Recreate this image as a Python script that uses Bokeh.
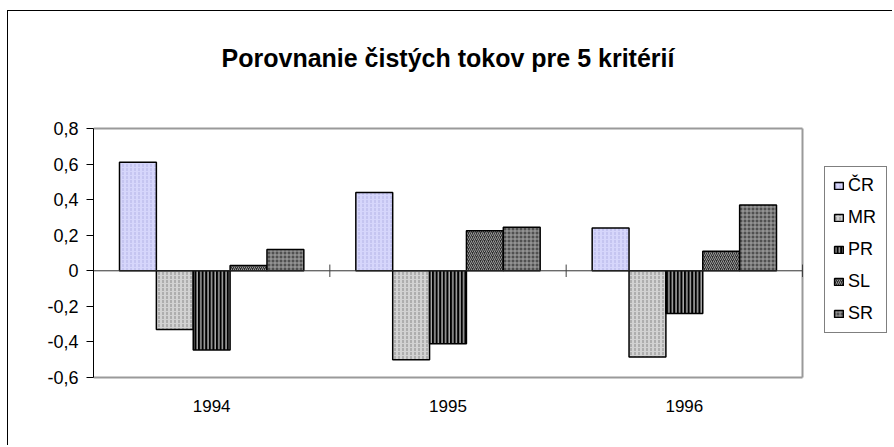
from bokeh.plotting import figure
from bokeh.models import (ColumnDataSource, Range1d, FixedTicker, Legend, LegendItem, Label)
from bokeh.transform import dodge
from bokeh.embed import file_html
from bokeh.resources import INLINE

years = ["1994", "1995", "1996"]
series = ["ČR", "MR", "PR", "SL", "SR"]
CR = [0.61, 0.44, 0.24]
MR = [-0.33, -0.50, -0.485]
PR = [-0.445, -0.41, -0.24]
SL = [0.03, 0.225, 0.11]
SR = [0.12, 0.245, 0.37]
y_ticks = [-0.6, -0.4, -0.2, 0.0, 0.2, 0.4, 0.6, 0.8]
y_tick_labels = ["-0,6", "-0,4", "-0,2", "0", "0,2", "0,4", "0,6", "0,8"]
title_text = "Porovnanie čistých tokov pre 5 kritérií"

values = {"ČR": CR, "MR": MR, "PR": PR, "SL": SL, "SR": SR}
styles = {
    "ČR": dict(fill_color="#d6d6fb", hatch_pattern=":", hatch_color="#b4b4e6", hatch_scale=4, hatch_weight=1),
    "MR": dict(fill_color="#d2d2d2", hatch_pattern=":", hatch_color="#8a8a8a", hatch_scale=4, hatch_weight=1),
    "PR": dict(fill_color="#000000", hatch_pattern="|", hatch_color="#ffffff", hatch_scale=3.6, hatch_weight=1),
    "SL": dict(fill_color="#2e2e2e", hatch_pattern="/", hatch_color="#9a9a9a", hatch_scale=4, hatch_weight=1),
    "SR": dict(fill_color="#505050", hatch_pattern="+", hatch_color="#a8a8a8", hatch_scale=4, hatch_weight=1),
}

# layout geometry (pixels)
W, H = 892, 445
LEFT, RIGHT, TOP, BOTTOM = 93, 4, 20, 66
CAT_W = 709                      # width of the category area inside the frame
AXIS_TOP, AXIS_BOTTOM = 128, 377 # pixel rows of the 0,8 and -0,6 ticks
FRAME_W = W - LEFT - RIGHT
FRAME_H = H - TOP - BOTTOM
n = len(years)
x_end = n * FRAME_W / CAT_W
y_lo, y_hi = -0.6, 0.8
ppu = (AXIS_BOTTOM - AXIS_TOP) / (y_hi - y_lo)
y_start = y_lo - (H - BOTTOM - AXIS_BOTTOM) / ppu
y_end = y_start + FRAME_H / ppu

xs = [i + 0.5 for i in range(n)]
data = {"x": xs}
for s in series:
    data[s] = values[s]
source = ColumnDataSource(data)

p = figure(width=W, height=H, output_backend="svg", toolbar_location=None,
           x_range=Range1d(0, x_end), y_range=Range1d(y_start, y_end),
           min_border_left=LEFT, min_border_right=RIGHT, min_border_top=TOP, min_border_bottom=BOTTOM)
p.styles = {"background": "linear-gradient(#000,#000) 7px 10px / 1px 100% no-repeat, "
                          "linear-gradient(#000,#000) 7px 10px / 100% 1px no-repeat, #ffffff"}
p.grid.visible = False
p.outline_line_color = None
p.background_fill_color = "white"
p.border_fill_alpha = 0

# title (inside the enlarged frame, above the plot area)
p.add_layout(Label(x=CAT_W / 2, y=(H - BOTTOM) - 57, x_units="screen", y_units="screen",
                   text=title_text, text_font="Liberation Sans", text_font_style="bold",
                   text_font_size="25px", text_align="center", text_baseline="middle",
                   text_color="black"))

# plot-area border (gray) and zero axis with category separators
border = ColumnDataSource({"x0": [0, 0, n], "x1": [n, n, n],
                           "y0": [y_hi, y_lo, y_lo], "y1": [y_hi, y_lo, y_hi]})
p.segment(x0="x0", x1="x1", y0="y0", y1="y1", source=border, line_color="#9a9a9a", line_width=2)

bw = 0.156
offsets = [-2 * bw, -bw, 0.0, bw, 2 * bw]
items = []
for s, off in zip(series, offsets):
    r = p.vbar(x=dodge("x", off), top=s, bottom=0, width=bw,
               source=source, line_color="black", line_width=1.5, **styles[s])
    items.append(LegendItem(label=s, renderers=[r]))

zero = ColumnDataSource({"x0": [0], "x1": [n], "y": [0]})
p.segment(x0="x0", x1="x1", y0="y", y1="y", source=zero, line_color="#303030", line_width=1)
ticks_src = ColumnDataSource({"x": xs, "y0": [-0.035] * n, "y1": [0.035] * n})
p.segment(x0=dodge("x", 0.5), x1=dodge("x", 0.5), y0="y0", y1="y1",
          source=ticks_src, line_color="#404040", line_width=1)

# y axis
p.yaxis.ticker = FixedTicker(ticks=y_ticks)
p.yaxis.bounds = (y_lo, y_hi)
p.yaxis.major_label_overrides = {t: l for t, l in zip(y_ticks, y_tick_labels)}
p.yaxis.minor_tick_line_color = None
p.yaxis.major_tick_in = 0
p.yaxis.major_tick_out = 7
p.yaxis.axis_line_color = "black"
p.yaxis.major_tick_line_color = "black"
p.yaxis.major_label_text_font = "Liberation Sans"
p.yaxis.major_label_text_font_size = "18px"
p.yaxis.major_label_text_color = "black"
p.yaxis.major_label_standoff = 8

# x axis (category labels only)
p.xaxis.ticker = FixedTicker(ticks=xs)
p.xaxis.major_label_overrides = {x: y for x, y in zip(xs, years)}
p.xaxis.axis_line_color = None
p.xaxis.major_tick_line_color = None
p.xaxis.minor_tick_line_color = None
p.xaxis.major_label_text_font = "Liberation Sans"
p.xaxis.major_label_text_font_size = "17px"
p.xaxis.major_label_text_color = "black"
p.xaxis.major_label_standoff = 14

legend = Legend(items=items, location=(731, 46), border_line_color="black", border_line_width=1,
                background_fill_color="white", background_fill_alpha=1,
                label_text_font="Liberation Sans", label_text_font_size="18px",
                label_text_color="black",
                glyph_width=11, glyph_height=9, label_standoff=4, label_width=30,
                label_height=20, spacing=11, padding=8, margin=0)
p.add_layout(legend, "center")

open("out.html", "w").write(file_html(p, INLINE))
